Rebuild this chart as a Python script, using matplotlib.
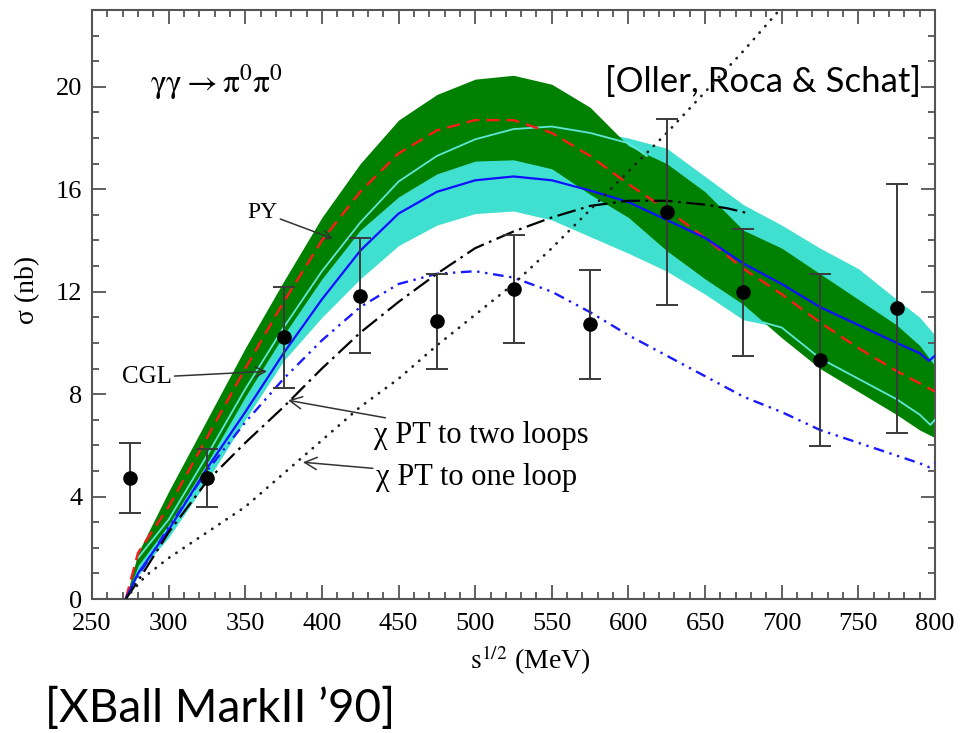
import matplotlib
matplotlib.use("Agg")
import matplotlib.pyplot as plt
from matplotlib.ticker import MultipleLocator

plt.rcParams["mathtext.fontset"] = "stix"

# Data -----

# common x grid of the two uncertainty bands (MeV)
x_band = [272, 280, 290, 300, 325, 350, 375, 400, 425, 450, 475, 500, 525,
          550, 575, 600, 625, 650, 675, 700, 725, 750, 775, 790, 800]
green_hi = [0, 1.8, 3.0, 4.2, 7.0, 9.8, 12.4, 14.9, 17.0, 18.7, 19.7, 20.3, 20.45,
            20.1, 19.2, 17.7, 17.0, 15.9, 14.4, 13.7, 12.7, 11.7, 10.7, 9.9, 9.1]
green_lo = [0, 1.3, 2.1, 2.9, 5.3, 7.9, 10.3, 12.5, 14.4, 15.7, 16.6, 17.1, 17.15,
            16.8, 15.8, 14.9, 13.6, 12.5, 11.5, 10.2, 9.0, 8.1, 7.2, 6.6, 6.3]
cyan_hi = [0, 1.6, 2.6, 3.6, 6.2, 8.9, 11.4, 13.7, 15.7, 17.2, 18.2, 18.7, 18.8,
           18.6, 18.3, 18.0, 17.6, 16.5, 15.4, 14.6, 13.7, 12.9, 11.7, 11.0, 10.3]
cyan_lo = [0, 0.9, 1.7, 2.4, 4.6, 7.0, 9.3, 11.0, 12.5, 13.8, 14.6, 15.05, 15.15,
           14.8, 14.15, 13.5, 12.8, 11.9, 10.9, 10.6, 9.9, 9.0, 7.9, 7.2, 6.7]

# red dashed (PY)
x_red = [272, 280, 300, 325, 350, 375, 400, 425, 450, 475, 500, 525, 550, 575,
         600, 625, 650, 675, 700, 725, 750, 775, 800]
y_red = [0, 1.8, 3.6, 6.3, 9.0, 11.6, 14.0, 15.9, 17.4, 18.3, 18.7, 18.7, 18.2, 17.3,
         16.2, 15.2, 14.1, 12.9, 11.9, 10.8, 9.8, 8.9, 8.1]

# blue solid (CGL)
x_blue = [272, 280, 300, 325, 350, 375, 400, 425, 450, 475, 500, 525, 550, 575,
          600, 625, 650, 675, 700, 725, 750, 775, 790, 796, 800]
y_blue = [0, 1.0, 2.7, 5.1, 7.3, 9.6, 11.7, 13.6, 15.05, 15.9, 16.35, 16.5, 16.35, 15.95,
          15.5, 14.8, 14.1, 13.1, 12.3, 11.4, 10.7, 10.0, 9.6, 9.3, 9.5]

# thin light cyan line, two visible pieces
x_lc1 = [280, 300, 325, 350, 375, 400, 425, 450, 475, 500, 525, 550, 575, 600, 612]
y_lc1 = [1.6, 3.1, 5.6, 8.2, 10.6, 12.8, 14.7, 16.3, 17.3, 17.95, 18.35, 18.45, 18.2, 17.8, 17.3]
x_lc2 = [688, 700, 725, 750, 775, 790, 797, 800]
y_lc2 = [10.8, 10.6, 9.4, 8.6, 7.8, 7.2, 6.8, 7.0]

# blue dash-dot-dot (chiPT two loops)
x_two = [272, 280, 300, 325, 350, 375, 400, 425, 450, 475, 500, 525, 550, 575,
         600, 625, 650, 675, 700, 725, 750, 775, 790, 796, 800]
y_two = [0, 0.9, 2.8, 5.0, 6.9, 8.6, 10.1, 11.4, 12.3, 12.7, 12.8, 12.55, 12.0, 11.2,
         10.3, 9.5, 8.7, 7.9, 7.3, 6.6, 6.1, 5.6, 5.3, 5.15, 5.3]

# black dash-dot
x_bdd = [272, 280, 300, 325, 350, 375, 400, 425, 450, 475, 500, 525, 550, 575,
         600, 625, 650, 665, 679]
y_bdd = [0, 0.7, 2.6, 4.6, 6.1, 7.5, 9.0, 10.4, 11.6, 12.7, 13.7, 14.35, 14.9, 15.35,
         15.55, 15.55, 15.4, 15.25, 15.05]

# black dotted (chiPT one loop)
x_one = [272, 276, 285, 300, 325, 350, 375, 400, 425, 450, 475, 500, 525, 550,
         575, 600, 625, 650, 675, 700]
y_one = [0, 0.3, 0.9, 1.6, 2.6, 3.6, 4.9, 6.2, 7.5, 8.6, 9.9, 11.1, 12.3, 13.7,
         15.2, 16.7, 18.2, 19.8, 21.4, 23.1]

# XBall MarkII '90 data
x_data = [275, 325, 375, 425, 475, 525, 575, 625, 675, 725, 775]
y_data = [4.73, 4.72, 10.23, 11.85, 10.85, 12.1, 10.72, 15.1, 11.98, 9.34, 11.37]
y_up = [6.1, 5.85, 12.2, 14.1, 12.7, 14.2, 12.85, 18.73, 14.45, 12.7, 16.22]
y_dn = [3.36, 3.6, 8.25, 9.62, 8.97, 10.0, 8.59, 11.49, 9.47, 5.98, 6.48]

# Plot -----

fig = plt.figure(figsize=(9.61, 7.33), dpi=100)
ax = fig.add_axes([92 / 961, 134 / 733, 843 / 961, 589 / 733])

ax.fill_between(x_band, cyan_lo, cyan_hi, color="#40e0d0", lw=0, zorder=1)
ax.fill_between(x_band, green_lo, green_hi, color="#008000", lw=0, zorder=2)

ax.plot(x_lc1, y_lc1, color="#5fe8d8", lw=1.3, zorder=3)
ax.plot(x_lc2, y_lc2, color="#5fe8d8", lw=1.3, zorder=3)
ax.plot(x_red, y_red, color="#ff1a1a", lw=1.7, dashes=(5.5, 3), zorder=4)
ax.plot(x_blue, y_blue, color="#1010ff", lw=1.6, zorder=4)
ax.plot(x_two, y_two, color="#1a1aff", lw=1.7, dashes=(4.5, 2.4, 1.0, 2.4, 1.0, 2.4), zorder=4)
ax.plot(x_bdd, y_bdd, color="black", lw=1.6, dashes=(8.5, 2.5, 1.2, 2.5), zorder=4)
ax.plot(x_one, y_one, color="#222222", lw=2.0, dashes=(0.1, 3.0),
        dash_capstyle="round", zorder=4)

err = [[y - d for y, d in zip(y_data, y_dn)], [u - y for y, u in zip(y_data, y_up)]]
ax.errorbar(x_data, y_data, yerr=err, fmt="o", color="black", ms=9.5,
            ecolor="#3a3a3a", elinewidth=1.4, capsize=8, capthick=1.4, zorder=6)

ax.set_xlim(250, 800)
ax.set_ylim(0, 23)
ax.xaxis.set_major_locator(MultipleLocator(50))
ax.xaxis.set_minor_locator(MultipleLocator(10))
ax.yaxis.set_major_locator(MultipleLocator(4))
ax.yaxis.set_minor_locator(MultipleLocator(1))
ax.tick_params(which="both", direction="in", top=True, right=True,
               color="#555555", width=1.3)
ax.tick_params(which="major", length=10, labelsize=19)
ax.tick_params(axis="x", which="major", pad=10)
ax.tick_params(axis="y", which="major", pad=7)
ax.tick_params(which="minor", length=5)
for lab in ax.get_xticklabels() + ax.get_yticklabels():
    lab.set_family("Liberation Serif")
for s in ax.spines.values():
    s.set_color("#555555")
    s.set_linewidth(1.5)

# axis titles
fig.text(28 / 961, 1 - 290 / 733, "σ (nb)", rotation=90, ha="center", va="center",
         family="Liberation Serif", fontsize=20)
fig.text(530 / 961, 1 - 660 / 733, r"$\mathrm{s}^{1/2}$ (MeV)", ha="center", va="center",
         family="Liberation Serif", fontsize=20)

# labels inside the plot
ax.text(288, 19.8, r"$\mathrm{\gamma\gamma \rightarrow \pi^0\pi^0}$", fontsize=24,
        ha="left", va="baseline")
ax.text(688, 19.8, "[Oller, Roca & Schat]", family="Lato", fontsize=25,
        ha="center", va="baseline")

serif = dict(family="Liberation Serif", color="black")
arrow = dict(arrowstyle="->", color="#333333", lw=1.1, shrinkA=0, shrinkB=0)
ax.annotate("PY", xy=(407.2, 14.07), xytext=(371, 15.1), fontsize=17, ha="right",
            va="center", arrowprops=arrow, **serif)
ax.annotate("CGL", xy=(364.2, 8.89), xytext=(302, 8.65), fontsize=18, ha="right",
            va="center", arrowprops=arrow, **serif)
ax.annotate("χ PT to two loops", xy=(377.9, 7.76), xytext=(434, 6.4), fontsize=22,
            ha="left", va="center", arrowprops=arrow, **serif)
ax.annotate("χ PT to one loop", xy=(387.6, 5.34), xytext=(435, 4.75), fontsize=22,
            ha="left", va="center", arrowprops=arrow, **serif)

fig.text(45 / 961, 1 - 708 / 733, "[XBall MarkII ’90]", family="Lato", fontsize=33,
         ha="left", va="center")

fig.savefig("out.png", dpi=100)
